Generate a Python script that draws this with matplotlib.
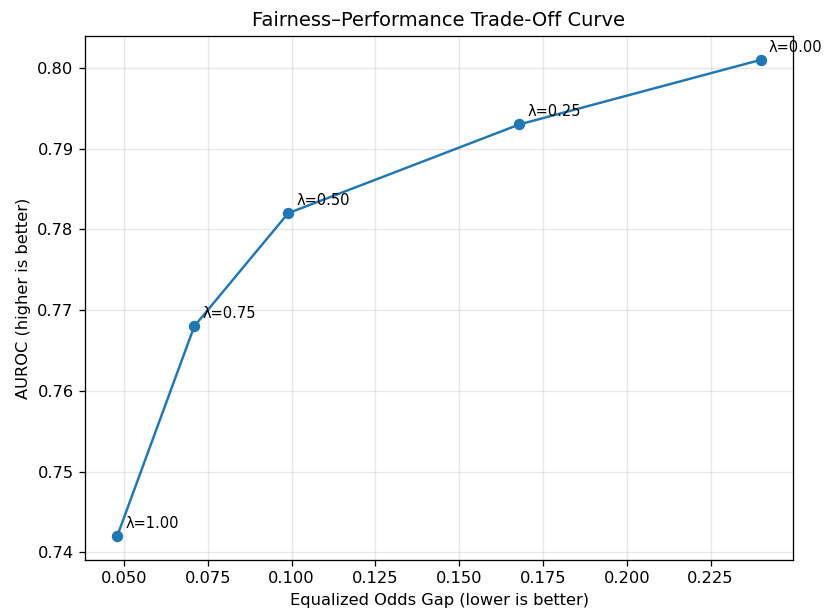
import matplotlib.pyplot as plt

DPI = 117

lambdas = [1.00, 0.75, 0.50, 0.25, 0.00]
eo_gap = [0.048, 0.071, 0.099, 0.168, 0.240]
auroc = [0.742, 0.768, 0.782, 0.793, 0.801]


def main() -> None:
    fig = plt.figure(figsize=(825 / DPI, 612 / DPI), dpi=DPI)
    ax = fig.add_axes([85 / 825, 1 - 560 / 612, (793 - 85) / 825, (560 - 36) / 612])

    ax.plot(eo_gap, auroc, marker="o", color="#1f77b4", linewidth=1.5)
    for lam, x, y in zip(lambdas, eo_gap, auroc):
        ax.annotate(
            f"λ={lam:.2f}",
            (x, y),
            textcoords="offset points",
            xytext=(5, 5),
            fontsize=9,
        )

    ax.set_title("Fairness–Performance Trade-Off Curve")
    ax.set_xlabel("Equalized Odds Gap (lower is better)")
    ax.set_ylabel("AUROC (higher is better)")
    ax.grid(True, alpha=0.3)

    fig.savefig("out.png", dpi=DPI)
    plt.close(fig)


if __name__ == "__main__":
    main()
